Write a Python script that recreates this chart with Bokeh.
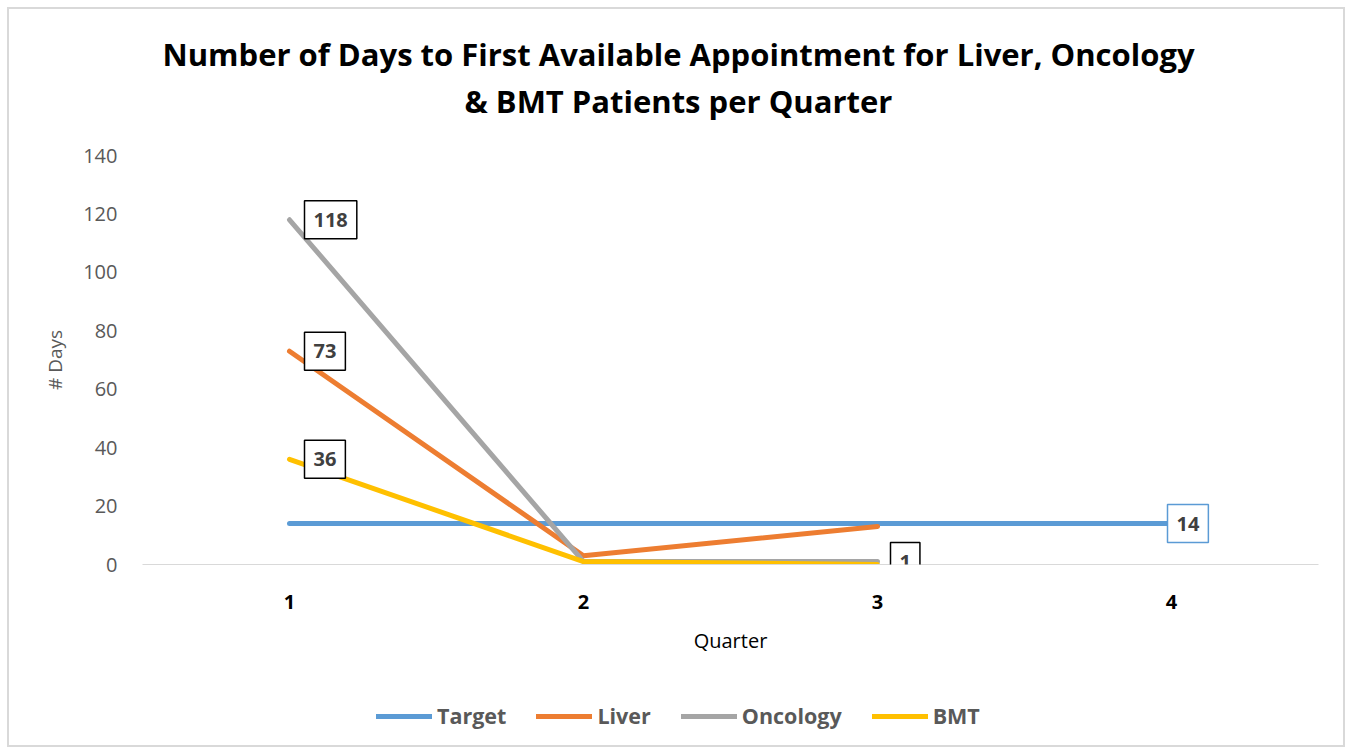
from bokeh.plotting import figure
from bokeh.models import Label, Legend, LegendItem, FixedTicker, Range1d, Title
from bokeh.layouts import column
from bokeh.embed import file_html
from bokeh.resources import INLINE

quarters = [1, 2, 3, 4]
target = [14, 14, 14, 14]
liver = [73, 3, 13]
oncology = [118, 1, 1]
bmt = [36, 1, 0]
y_ticks = [0, 20, 40, 60, 80, 100, 120, 140]

title_lines = ["Number of Days to First Available Appointment for Liver, Oncology",
               "& BMT Patients per Quarter"]

C_TARGET = "#5B9BD5"
C_LIVER = "#ED7D31"
C_ONC = "#A5A5A5"
C_BMT = "#FFC000"
FONT = "Open Sans"

W = 1334
H_MAIN, H_LEG = 686, 50
FL, FT, FR, FB = 133, 146, 25, 131

p = figure(width=W, height=H_MAIN, output_backend="svg", toolbar_location=None,
           x_range=Range1d(0.5, 4.5), y_range=Range1d(0, 140),
           min_border_left=FL, min_border_top=FT, min_border_right=FR, min_border_bottom=FB)
p.outline_line_color = None
p.xgrid.grid_line_color = None
p.ygrid.grid_line_color = None

# axes
p.xaxis.ticker = FixedTicker(ticks=quarters)
p.xaxis.axis_line_color = "#D9D9D9"
p.xaxis.axis_line_width = 1
p.xaxis.major_tick_line_color = None
p.xaxis.minor_tick_line_color = None
p.xaxis.major_label_text_font = FONT
p.xaxis.major_label_text_font_style = "bold"
p.xaxis.major_label_text_font_size = "20px"
p.xaxis.major_label_text_color = "#000000"
p.xaxis.major_label_standoff = 24
p.xaxis.axis_label = "Quarter"
p.xaxis.axis_label_standoff = 15
p.xaxis.axis_label_text_font = FONT
p.xaxis.axis_label_text_font_style = "normal"
p.xaxis.axis_label_text_font_size = "20px"
p.xaxis.axis_label_text_color = "#000000"

p.yaxis.ticker = FixedTicker(ticks=y_ticks)
p.yaxis.axis_line_color = None
p.yaxis.major_tick_line_color = None
p.yaxis.minor_tick_line_color = None
p.yaxis.major_label_text_font = FONT
p.yaxis.major_label_text_font_size = "20px"
p.yaxis.major_label_text_color = "#595959"
p.yaxis.major_label_standoff = 19
p.yaxis.axis_label = "# Days"
p.yaxis.axis_label_standoff = 12
p.yaxis.axis_label_text_font = FONT
p.yaxis.axis_label_text_font_style = "normal"
p.yaxis.axis_label_text_font_size = "19px"
p.yaxis.axis_label_text_color = "#595959"

series = [("Target", quarters, target, C_TARGET),
          ("Liver", quarters[:len(liver)], liver, C_LIVER),
          ("Oncology", quarters[:len(oncology)], oncology, C_ONC),
          ("BMT", quarters[:len(bmt)], bmt, C_BMT)]
for name, xs, ys, col in series:
    p.line(xs, ys, line_color=col, line_width=5, line_cap="round", line_join="round")

# data labels
def data_label(x, y, text, border, dx):
    p.add_layout(Label(x=x, y=y, text=text, x_offset=dx, text_baseline="middle",
                       text_align="left", text_font=FONT, text_font_style="bold",
                       text_font_size="20px", text_color="#404040",
                       border_line_color=border, border_line_width=1.5,
                       background_fill_color="white",
                       padding=dict(left=9, right=9, top=12, bottom=12)))

data_label(quarters[0], liver[0], str(liver[0]), "black", 15)
data_label(quarters[0], oncology[0], str(oncology[0]), "black", 15)
data_label(quarters[0], bmt[0], str(bmt[0]), "black", 15)
data_label(quarters[len(oncology) - 1], oncology[-1], str(oncology[-1]), "black", 13)
data_label(quarters[-1], target[-1], str(target[-1]), C_TARGET, -4)

# title: spacer closest to the plot, then line 2, then line 1 (outermost)
p.title = None
p.add_layout(Title(text="\u00a0", text_font_size="10px", standoff=19), "above")
p.add_layout(Title(text=title_lines[1], align="left", text_font=FONT,
                   text_font_style="bold", text_font_size="31px", text_color="#000000",
                   standoff=3, offset=322), "above")
p.add_layout(Title(text=title_lines[0], align="left", text_font=FONT,
                   text_font_style="bold", text_font_size="31px", text_color="#000000",
                   standoff=3, offset=20), "above")

# legend strip (its own small figure under the chart; its ranges keep the
# series lines out of view so only the legend keys show)
lg = figure(width=W, height=H_LEG, output_backend="svg", toolbar_location=None,
            x_range=Range1d(100, 101), y_range=Range1d(100, 101),
            x_axis_location=None, y_axis_location=None,
            min_border_left=0, min_border_right=0, min_border_top=0, min_border_bottom=0)
lg.outline_line_color = None
lg.xgrid.grid_line_color = None
lg.ygrid.grid_line_color = None
items = []
for name, xs, ys, col in series:
    r = lg.line(xs, ys, line_color=col, line_width=5, line_cap="round")
    items.append(LegendItem(label=name, renderers=[r]))
legend = Legend(items=items, orientation="horizontal", location=(234, 15),
                border_line_color=None, background_fill_alpha=0, padding=0, margin=0,
                glyph_width=56, glyph_height=20, label_standoff=5, spacing=30,
                label_text_font=FONT, label_text_font_style="bold",
                label_text_font_size="21.5px", label_text_color="#595959")
lg.add_layout(legend, "center")

layout = column(p, lg, spacing=0)
layout.styles = {"border": "2px solid #D9D9D9", "margin-left": "7px", "margin-top": "7px"}
open("out.html", "w").write(file_html(layout, INLINE))
